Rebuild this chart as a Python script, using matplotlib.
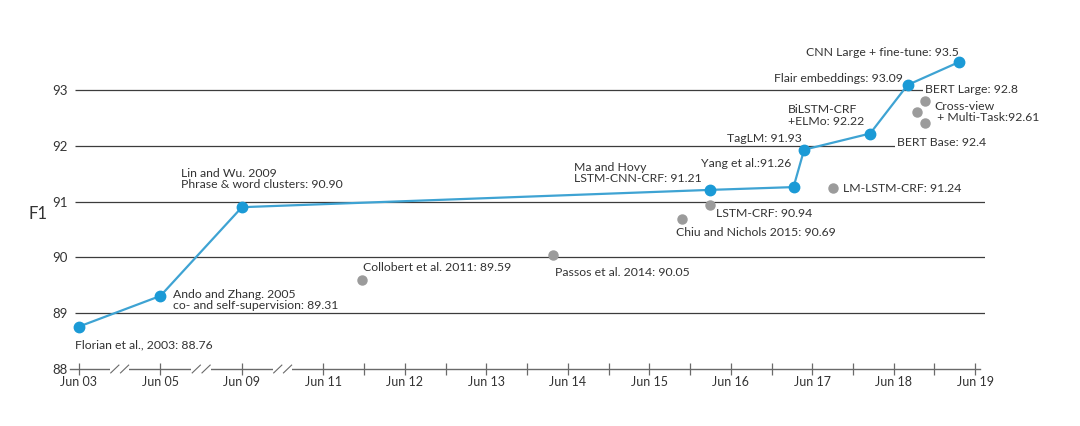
import numpy as np
import matplotlib
matplotlib.use("Agg")
import matplotlib.pyplot as plt

# state of the art progression (blue line)
sota_names = ["Florian et al., 2003: 88.76",
              "Ando and Zhang. 2005\nco- and self-supervision: 89.31",
              "Lin and Wu. 2009\nPhrase & word clusters: 90.90",
              "Ma and Hovy\nLSTM-CNN-CRF: 91.21",
              "Yang et al.:91.26",
              "TagLM: 91.93",
              "BiLSTM-CRF\n+ELMo: 92.22",
              "Flair embeddings: 93.09",
              "CNN Large + fine-tune: 93.5"]
sota_dates = [2003.5, 2005.5, 2009.5, 2016.25, 2017.27, 2017.40, 2018.21, 2018.67, 2019.30]
sota_f1 = [88.76, 89.31, 90.90, 91.21, 91.26, 91.93, 92.22, 93.09, 93.5]

# other results (gray points)
other_names = ["Collobert et al. 2011: 89.59",
               "Passos et al. 2014: 90.05",
               "Chiu and Nichols 2015: 90.69",
               "LSTM-CRF: 90.94",
               "LM-LSTM-CRF: 91.24",
               "Cross-view\n + Multi-Task:92.61",
               "BERT Large: 92.8",
               "BERT Base: 92.4"]
other_dates = [2011.97, 2014.32, 2015.90, 2016.25, 2017.76, 2018.79, 2018.88, 2018.88]
other_f1 = [89.59, 90.05, 90.69, 90.94, 91.24, 92.61, 92.8, 92.4]

tick_dates = [2003.5, 2005.5, 2009.5, 2011.5, 2012.5, 2013.5, 2014.5,
              2015.5, 2016.5, 2017.5, 2018.5, 2019.5]
tick_labels = ["Jun 03", "Jun 05", "Jun 09", "Jun 11", "Jun 12", "Jun 13",
               "Jun 14", "Jun 15", "Jun 16", "Jun 17", "Jun 18", "Jun 19"]
y_ticks = [88, 89, 90, 91, 92, 93]

# broken time axis: the early years are squeezed together
brk_years = [2001.5, 2003.5, 2005.5, 2009.5, 2011.5, 2030.5]
brk_pos = [-1, 0, 1, 2, 3, 22]


def fwd(x):
    return np.interp(x, brk_years, brk_pos)


def inv(p):
    return np.interp(p, brk_pos, brk_years)


# label offsets in pixels (dx, dy, ha)
sota_off = [(-4, -18, "left"), (13, -4, "left"), (-61, 28, "left"),
            (-136, 17, "left"), (-2, 24, "right"), (-2, 11, "right"),
            (-82, 18, "left"), (-5, 6, "right"), (0, 10, "right")]
other_off = [(1, 13, "left"), (2, -18, "left"), (-6, -14, "left"),
             (6, -9, "left"), (10, 0, "left"), (17, 0, "left"),
             (0, 12, "left"), (-28, -19, "left")]

plt.rcParams["font.family"] = ["Lato", "DejaVu Sans"]
txt = "#333333"
blue = "#1b9ad6"
gray = "#9b9b9b"

fig = plt.figure(figsize=(10.8, 4.26), dpi=100)
ax = fig.add_axes([70 / 1080, 1 - 369 / 426, 915 / 1080, 329 / 426])
ax.set_xscale("function", functions=(fwd, inv))
ax.set_xlim(inv(-0.11), inv(11.12))
ax.set_ylim(88, 88 + 329 / 55.8)

# horizontal grid lines
ax.hlines(y_ticks[1:], inv(-0.05), inv(11.12), color="#3c3c3c", lw=0.9, zorder=1)

ax.plot(sota_dates, sota_f1, color="#3ea3d3", lw=1.6, zorder=3)
ax.plot(sota_dates, sota_f1, "o", color=blue, ms=7.5, zorder=4)
ax.plot(other_dates, other_f1, "o", color=gray, ms=6.5, zorder=2)

for name, x, y, (dx, dy, ha) in zip(sota_names, sota_dates, sota_f1, sota_off):
    ax.annotate(name, (x, y), xytext=(dx, dy), textcoords="offset pixels",
                ha=ha, va="center", fontsize=8.8, color=txt, linespacing=1.05,
                zorder=5)
for name, x, y, (dx, dy, ha) in zip(other_names, other_dates, other_f1, other_off):
    box = None
    if name.startswith("BERT"):
        box = dict(facecolor="white", edgecolor="none", pad=1)
    ax.annotate(name, (x, y), xytext=(dx, dy), textcoords="offset pixels",
                ha=ha, va="center", fontsize=8.8, color=txt, linespacing=1.05,
                bbox=box, zorder=5)

# axes styling
for s in ["top", "right", "left"]:
    ax.spines[s].set_visible(False)
ax.spines["bottom"].set_color("#6a6a6a")
ax.spines["bottom"].set_linewidth(1.0)
ax.spines["bottom"].set_bounds(inv(-0.11), inv(11.06))

ax.set_xticks(tick_dates)
ax.set_xticklabels(tick_labels)
ax.set_xticks([d + 0.5 for d in tick_dates[3:-1]], minor=True)
ax.tick_params(axis="x", which="both", direction="inout", length=8,
               width=0.9, color="#6a6a6a", labelsize=9, labelcolor=txt, pad=1)
ax.set_yticks(y_ticks)
ax.tick_params(axis="y", length=0, labelsize=9.5, labelcolor=txt, pad=1.5)
ax.set_ylabel("F1", fontsize=12, color=txt, rotation=0)
ax.yaxis.set_label_coords(-0.035, 0.447)

# break marks on the squeezed part of the axis
for p in [0.5, 1.5, 2.5]:
    ax.plot([inv(p - 0.12), inv(p + 0.12)], [88, 88], color="white", lw=3,
            solid_capstyle="butt", clip_on=False, zorder=6)
    for off in (-0.06, 0.06):
        ax.plot([inv(p + off - 0.05), inv(p + off + 0.05)], [88 - 0.07, 88 + 0.07],
                color="#6a6a6a", lw=0.8, clip_on=False, zorder=7)

fig.savefig("out.png", dpi=100)
